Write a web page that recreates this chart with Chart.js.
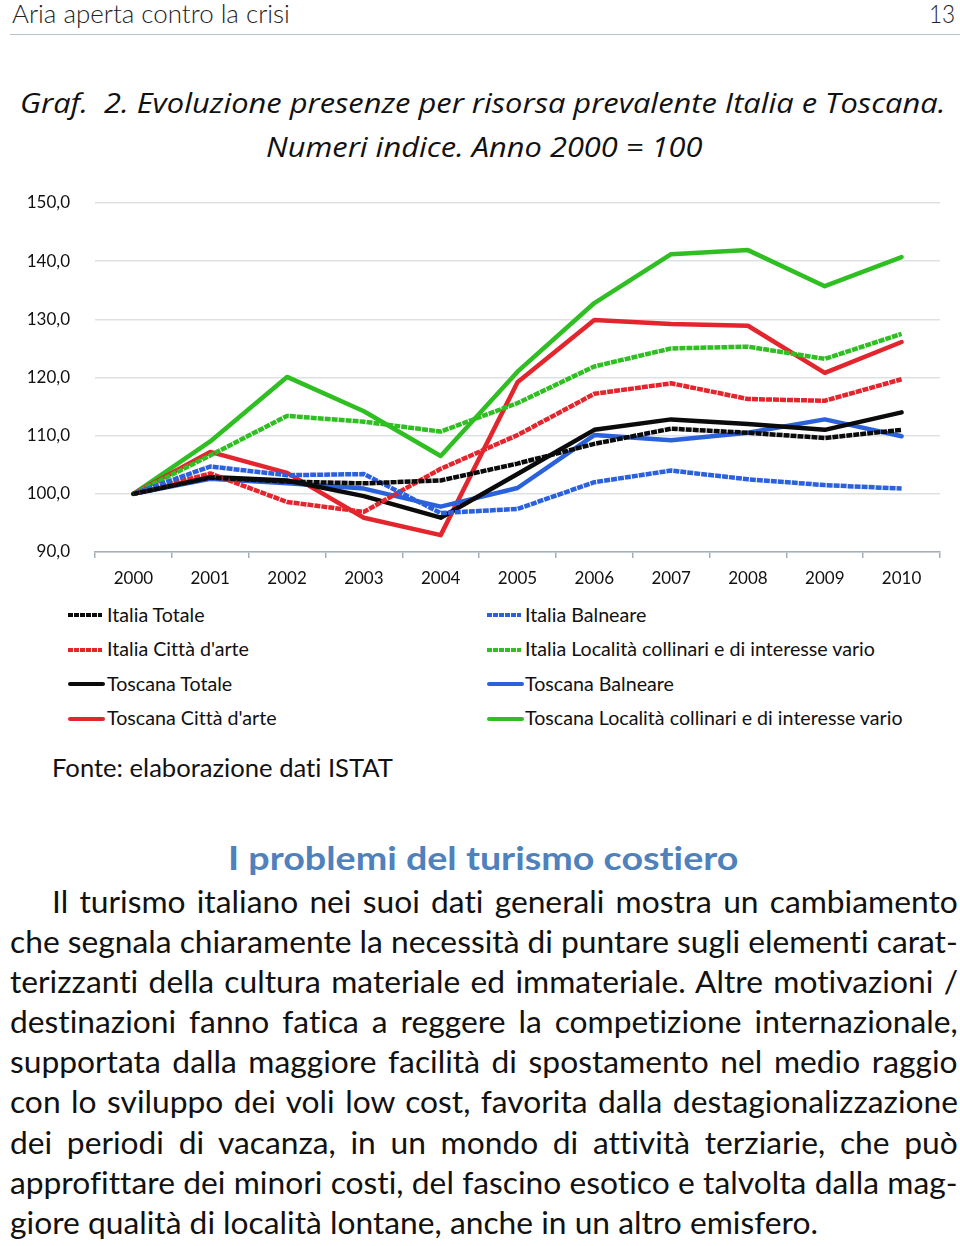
<!DOCTYPE html>
<html><head><meta charset="utf-8">
<script src="https://cdn.jsdelivr.net/npm/chart.js@4.4.1/dist/chart.umd.min.js"></script>
<style>
html,body{margin:0;padding:0;background:#fff;}
body{width:960px;height:1246px;position:relative;overflow:hidden;font-family:Lato,"Open Sans",sans-serif;color:#111;font-variant-ligatures:none;font-feature-settings:"liga" 0,"clig" 0;}
.abs{position:absolute;white-space:nowrap;display:inline-block;transform-origin:0 50%;}
#legend .sw{position:absolute;height:4px;}
#legend .tx{position:absolute;white-space:nowrap;color:#111;}
.bl{position:absolute;white-space:nowrap;display:inline-block;transform-origin:0 50%;}
</style></head><body>
<div id="hdr" class="abs" style="font-weight:300;color:#222;">Aria aperta contro la crisi</div>
<div id="pg" class="abs" style="font-weight:300;color:#222;">13</div>
<div style="position:absolute;left:10px;top:34px;width:950px;height:1px;background:#b7c3cc"></div>
<div id="t1" class="abs" style="font-family:'Open Sans',sans-serif;font-style:italic;">Graf.&nbsp; 2. Evoluzione presenze per risorsa prevalente Italia e Toscana.</div>
<div id="t2" class="abs" style="font-family:'Open Sans',sans-serif;font-style:italic;">Numeri indice. Anno 2000 = 100</div>
<canvas id="c" width="960" height="420" style="position:absolute;left:0;top:180px;width:960px;height:420px"></canvas>
<div id="legend"></div>
<div id="fonte" class="abs">Fonte: elaborazione dati ISTAT</div>
<div id="h2" class="abs" style="font-weight:bold;color:#4f81bd;">I problemi del turismo costiero</div>
<div id="body"></div>
<script>
// ---- data ----
const years = ['2000','2001','2002','2003','2004','2005','2006','2007','2008','2009','2010'];
const italiaTotale     = [100, 102.8, 102.1, 101.8, 102.3, 105.2, 108.6, 111.2, 110.5, 109.6, 111.0];
const italiaBalneare   = [100, 104.7, 103.2, 103.4, 96.7, 97.4, 102.0, 104.0, 102.5, 101.5, 100.9];
const italiaCittaArte  = [100, 103.5, 98.6, 96.9, 104.3, 110.1, 117.2, 119.0, 116.3, 116.0, 119.7];
const italiaCollinari  = [100, 106.6, 113.4, 112.4, 110.7, 115.6, 121.9, 125.0, 125.3, 123.2, 127.5];
const toscanaTotale    = [100, 102.9, 102.3, 99.6, 95.9, 103.4, 111.0, 112.8, 112.0, 111.0, 114.0];
const toscanaBalneare  = [100, 102.6, 101.8, 100.9, 97.8, 101.0, 110.1, 109.2, 110.5, 112.8, 109.9];
const toscanaCittaArte = [100, 107.2, 103.6, 95.9, 92.9, 119.2, 129.9, 129.2, 128.9, 120.8, 126.1];
const toscanaCollinari = [100, 109.0, 120.1, 114.2, 106.5, 121.0, 132.8, 141.2, 141.9, 135.7, 140.7];
const seriesNames = ['Italia Totale','Italia Balneare',"Italia Città d'arte",'Italia Località collinari e di interesse vario',
                     'Toscana Totale','Toscana Balneare',"Toscana Città d'arte",'Toscana Località collinari e di interesse vario'];
const yTicks = [90,100,110,120,130,140,150];
const bodyLines = [
 'Il turismo italiano nei suoi dati generali mostra un cambiamento',
 'che segnala chiaramente la necessità di puntare sugli elementi carat-',
 'terizzanti della cultura materiale ed immateriale. Altre motivazioni /',
 'destinazioni fanno fatica a reggere la competizione internazionale,',
 'supportata dalla maggiore facilità di spostamento nel medio raggio',
 'con lo sviluppo dei voli low cost, favorita dalla destagionalizzazione',
 'dei periodi di vacanza, in un mondo di attività terziarie, che può',
 'approfittare dei minori costi, del fascino esotico e talvolta dalla mag-',
 'giore qualità di località lontane, anche in un altro emisfero.'
];

// ---- styles ----
const BLACK='#0b0b0b', RED='#e3262d', BLUE='#2b62dc', GREEN='#2fbf22';
const seriesData = [italiaTotale, italiaBalneare, italiaCittaArte, italiaCollinari,
                    toscanaTotale, toscanaBalneare, toscanaCittaArte, toscanaCollinari];
const seriesColors = [BLACK, BLUE, RED, GREEN, BLACK, BLUE, RED, GREEN];
const dash = [6, 1];

const datasets = seriesData.map((d,i)=>({
  label: seriesNames[i], data: d, borderColor: seriesColors[i], backgroundColor: seriesColors[i],
  borderWidth: 4.5, pointRadius: 0, pointHoverRadius: 0, tension: 0, fill: false,
  borderDash: i < 4 ? dash : [], borderJoinStyle: 'round', borderCapStyle: i<4 ? 'butt' : 'round'
}));

const tickFont = {family: 'Lato, sans-serif', size: 17};
const chart = new Chart(document.getElementById('c'), {
  type: 'line',
  data: {labels: years, datasets},
  options: {
    responsive: false, animation: false, devicePixelRatio: 1,
    layout: {padding: {top: 23, right: 20, left: 0, bottom: 0}},
    plugins: {legend: {display: false}, tooltip: {enabled: false}},
    elements: {line: {clip: false}},
    scales: {
      x: {
        type: 'category', offset: true,
        grid: {offset: true, drawOnChartArea: false, drawTicks: true, tickLength: 6, color: '#a7afb6', lineWidth: 1.5},
        border: {display: true, color: '#a7afb6', width: 1.5},
        ticks: {font: tickFont, color: '#111', padding: 10, maxRotation: 0, autoSkip: false},
        afterFit: s => { s.height = 48; }
      },
      y: {
        min: 90, max: 150,
        afterBuildTicks: s => { s.ticks = yTicks.map(v => ({value: v})); },
        grid: {color: '#dde1e4', lineWidth: 1.5, drawTicks: true, tickLength: 25, tickColor: 'rgba(0,0,0,0)'},
        border: {display: false},
        ticks: {font: tickFont, color: '#111', padding: 0, callback: v => Number(v).toFixed(1).replace('.', ',')},
        afterFit: s => { s.width = 95; }
      }
    }
  }
});

// ---- text layout helpers ----
const LA = 0.987, LD = 0.213; // Lato metrics
const OA = 1.069, OD = 0.293; // Open Sans metrics
function place(el, left, right, baseline, fs, asc, desc) {
  el.style.fontSize = fs + 'px';
  el.style.lineHeight = fs + 'px';
  const w = el.offsetWidth;
  el.style.left = left + 'px';
  el.style.top = (baseline - ((fs - (asc + desc) * fs) / 2 + asc * fs)) + 'px';
  el.style.transform = 'scaleX(' + ((right - left) / w) + ')';
}
place(document.getElementById('hdr'), 12, 290, 23, 26, LA, LD);
place(document.getElementById('pg'), 929, 955, 23, 26, LA, LD);
place(document.getElementById('t1'), 20, 945, 112.7, 27, OA, OD);
place(document.getElementById('t2'), 266, 702, 156.7, 27, OA, OD);
place(document.getElementById('fonte'), 52, 393, 777.5, 25, LA, LD);
place(document.getElementById('h2'), 228, 738, 870.5, 33, LA, LD);

// ---- legend (built from the chart's datasets) ----
const leg = document.getElementById('legend');
const rowsY = [615, 649.5, 684, 718.5];
const colX = [68, 487];
const items = [];
chart.data.datasets.forEach((ds, i) => {
  const row = Math.floor(i / 2), col = i % 2;
  const isDash = ds.borderDash && ds.borderDash.length;
  const sw = document.createElement('div');
  sw.className = 'sw';
  const x0 = colX[col], swW = isDash ? 34 : 37;
  sw.style.left = x0 + 'px'; sw.style.top = (rowsY[row] - 2) + 'px'; sw.style.width = swW + 'px';
  sw.style.background = isDash
    ? `repeating-linear-gradient(90deg, ${ds.borderColor} 0 5px, transparent 5px 6px)`
    : ds.borderColor;
  if (!isDash) sw.style.borderRadius = '2px';
  leg.appendChild(sw);
  const tx = document.createElement('div');
  tx.className = 'tx'; tx.textContent = ds.label;
  tx.style.left = (x0 + (col === 0 ? 39 : 38)) + 'px';
  tx.style.fontSize = '18px';
  leg.appendChild(tx);
  items.push({tx, row});
});
// uniform font size so that the longest label matches its width
const longest = items[7].tx;
const fsLeg = 18 * 378 / longest.offsetWidth;
items.forEach(({tx, row}) => {
  tx.style.fontSize = fsLeg + 'px';
  tx.style.lineHeight = fsLeg + 'px';
  const base = rowsY[row] + 7.3;
  tx.style.top = (base - ((fsLeg - (LA + LD) * fsLeg) / 2 + LA * fsLeg)) + 'px';
});

// ---- body paragraph ----
const body = document.getElementById('body');
const els = bodyLines.map(t => { const s = document.createElement('span'); s.className = 'bl'; s.textContent = t; s.style.fontSize = '27px'; body.appendChild(s); return s; });
const lastW = els[8].offsetWidth;
const fs = 27 * 808 / lastW;
const lh = 40.15, firstBase = 913;
els.forEach((s, i) => {
  s.style.fontSize = fs + 'px';
  s.style.lineHeight = lh + 'px';
  const left = i === 0 ? 52 : 10;
  const right = i === 8 ? 818 : 958;
  s.style.left = left + 'px';
  const baseline = firstBase + i * lh;
  s.style.top = (baseline - ((lh - (LA + LD) * fs) / 2 + LA * fs)) + 'px';
  if (i < 8) {
    const w = s.offsetWidth;
    const n = (bodyLines[i].match(/ /g) || []).length;
    let ws = (right - left - w) / n;
    if (ws < -3) { ws = -3; }
    s.style.wordSpacing = ws + 'px';
    const w2 = s.offsetWidth;
    if (Math.abs(w2 - (right - left)) > 1) s.style.transform = 'scaleX(' + ((right - left) / w2) + ')';
  }
});
</script>
</body></html>
